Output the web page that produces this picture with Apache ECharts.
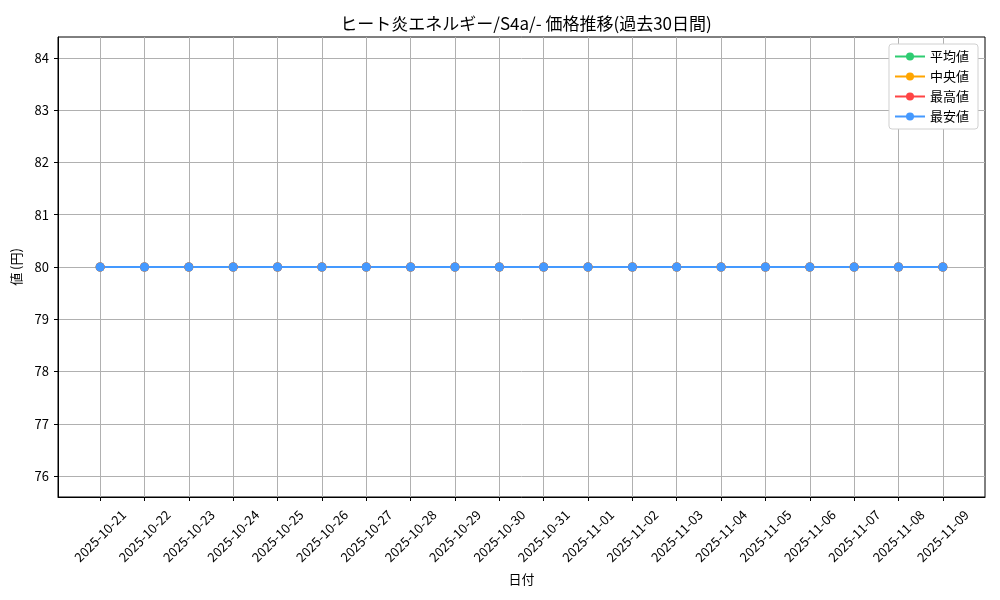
<!DOCTYPE html>
<html><head><meta charset="utf-8">
<script src="https://cdn.jsdelivr.net/npm/echarts@6/dist/echarts.min.js"></script>
<style>html,body{margin:0;padding:0;background:#fff}#c{width:1000px;height:600px}</style>
</head><body><div id="c"></div>
<script>
const dates = ["2025-10-21","2025-10-22","2025-10-23","2025-10-24","2025-10-25","2025-10-26","2025-10-27","2025-10-28","2025-10-29","2025-10-30","2025-10-31","2025-11-01","2025-11-02","2025-11-03","2025-11-04","2025-11-05","2025-11-06","2025-11-07","2025-11-08","2025-11-09"];
const avgValues = [80,80,80,80,80,80,80,80,80,80,80,80,80,80,80,80,80,80,80,80];
const medianValues = [80,80,80,80,80,80,80,80,80,80,80,80,80,80,80,80,80,80,80,80];
const maxValues = [80,80,80,80,80,80,80,80,80,80,80,80,80,80,80,80,80,80,80,80];
const minValues = [80,80,80,80,80,80,80,80,80,80,80,80,80,80,80,80,80,80,80,80];
const yTicks = [76,77,78,79,80,81,82,83,84];
const seriesNames = ["平均値","中央値","最高値","最安値"];
const colors = ["#2ecc71","#ffa500","#ff4444","#4499ff"];

const FONT = "Noto Sans CJK JP";
const xIdx = dates.map((d,i)=>i);
const chart = echarts.init(document.getElementById('c'));
const mk = (name, vals, color) => ({
  name, type:'line', data: vals.map((v,i)=>[i,v]),
  symbol:'circle', symbolSize:9, color,
  lineStyle:{width:1.8,color}, itemStyle:{color},
  emphasis:{disabled:true}, animation:false
});
chart.setOption({
  animation:false,
  textStyle:{fontFamily:FONT},
  title:{text:"ヒート炎エネルギー/S4a/- 価格推移(過去30日間)", left:521, textAlign:'center', top:10,
    textStyle:{fontFamily:FONT,fontSize:17,fontWeight:'normal',color:'#000'}},
  legend:{orient:'vertical', right:22, top:44, data:seriesNames,
    itemWidth:30, itemHeight:10, itemGap:7,
    backgroundColor:'#fff', borderColor:'#d0d0d0', borderWidth:1, borderRadius:3, padding:[6,9,6,5],
    textStyle:{fontFamily:FONT,fontSize:13,color:'#000'}},
  grid:{left:58, right:15, top:37, bottom:103, show:true, borderColor:'#000', borderWidth:1, containLabel:false},
  xAxis:{type:'value', min:-0.95, max:19.95,
    name:'日付', nameLocation:'middle', nameGap:76,
    nameTextStyle:{fontFamily:FONT,fontSize:13,color:'#000'},
    axisLine:{show:true,onZero:false,lineStyle:{color:'#000'}},
    axisTick:{show:true,length:4,lineStyle:{color:'#000'},customValues:xIdx},
    axisLabel:{customValues:xIdx, rotate:45, align:'center', verticalAlign:'middle',
      fontSize:13, color:'#000', fontFamily:FONT, margin:39,
      formatter:(v)=>dates[Math.round(v)]},
    splitLine:{show:true,lineStyle:{color:'#b0b0b0',width:1}}},
  yAxis:{type:'value', min:75.6, max:84.4,
    name:'値 (円)', nameLocation:'middle', nameGap:35, nameRotate:90,
    nameTextStyle:{fontFamily:FONT,fontSize:13,color:'#000'},
    axisLine:{show:true,onZero:false,lineStyle:{color:'#000'}},
    axisTick:{show:true,length:4,lineStyle:{color:'#000'},customValues:yTicks},
    axisLabel:{customValues:yTicks, fontSize:13, color:'#000', fontFamily:FONT, margin:9},
    splitLine:{show:true,lineStyle:{color:'#b0b0b0',width:1}}},
  series:[
    mk(seriesNames[0], avgValues, colors[0]),
    mk(seriesNames[1], medianValues, colors[1]),
    mk(seriesNames[2], maxValues, colors[2]),
    mk(seriesNames[3], minValues, colors[3])
  ]
});
</script></body></html>
